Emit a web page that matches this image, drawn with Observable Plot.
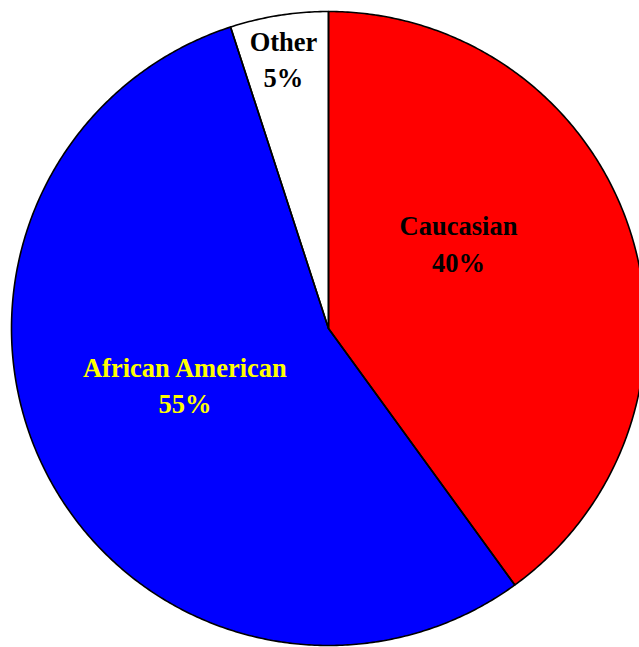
<!DOCTYPE html>
<html><head><meta charset="utf-8">
<script src="https://cdn.jsdelivr.net/npm/d3@7"></script>
<script src="https://cdn.jsdelivr.net/npm/@observablehq/plot@0.6"></script>
<style>html,body{margin:0;padding:0;background:#fff;overflow:hidden}</style>
</head><body><div id="chart"></div>
<script>
// Data
const categories = ["Caucasian", "African American", "Other"];
const shares = [40, 55, 5];
const sliceColors = ["#FF0000", "#0000FF", "#FFFFFF"];
const labelColors = ["#000000", "#FFFF00", "#000000"];
const labelTexts = categories.map((c, i) => `${c}\n${shares[i]}%`);

// Layout (label anchors in unit-circle coordinates)
const labelAnchors = [[0.41, 0.273], [-0.453, -0.172], [-0.142, 0.856]];

const arcs = d3.pie().sort(null).value(d => d.value)(
  categories.map((c, i) => ({category: c, value: shares[i]}))
);

const outline = [];
arcs.forEach(a => {
  const c = a.data.category;
  const n = Math.max(2, Math.ceil((a.endAngle - a.startAngle) / (Math.PI / 360)));
  outline.push({category: c, x: 0, y: 0});
  for (let k = 0; k <= n; k++) {
    const t = a.startAngle + (a.endAngle - a.startAngle) * k / n;
    outline.push({category: c, x: Math.sin(t), y: Math.cos(t)});
  }
  outline.push({category: c, x: 0, y: 0});
});

const labels = categories.map((c, i) => ({
  category: c, text: labelTexts[i], color: labelColors[i],
  x: labelAnchors[i][0], y: labelAnchors[i][1]
}));

const textMarks = labels.map(l => Plot.text([l], {
  x: "x", y: "y", text: "text", fill: l.color,
  fontFamily: "Liberation Serif", fontWeight: "bold", fontSize: 26.5,
  lineHeight: 1.36, textAnchor: "middle", lineAnchor: "middle"
}));

const chart = Plot.plot({
  width: 639, height: 647, margin: 0,
  style: {background: "#ffffff"},
  x: {domain: [-1, 1], range: [11, 645], axis: null},
  y: {domain: [-1, 1], range: [645, 11], axis: null},
  color: {domain: categories, range: sliceColors},
  marks: [
    Plot.line(outline, {x: "x", y: "y", z: "category", fill: "category", stroke: "none", curve: "linear"}),
    Plot.line(outline, {x: "x", y: "y", z: "category", stroke: "#000000", strokeWidth: 1.6, strokeLinejoin: "round", curve: "linear"}),
    ...textMarks
  ]
});
document.getElementById("chart").appendChild(chart);
</script>
</body></html>
